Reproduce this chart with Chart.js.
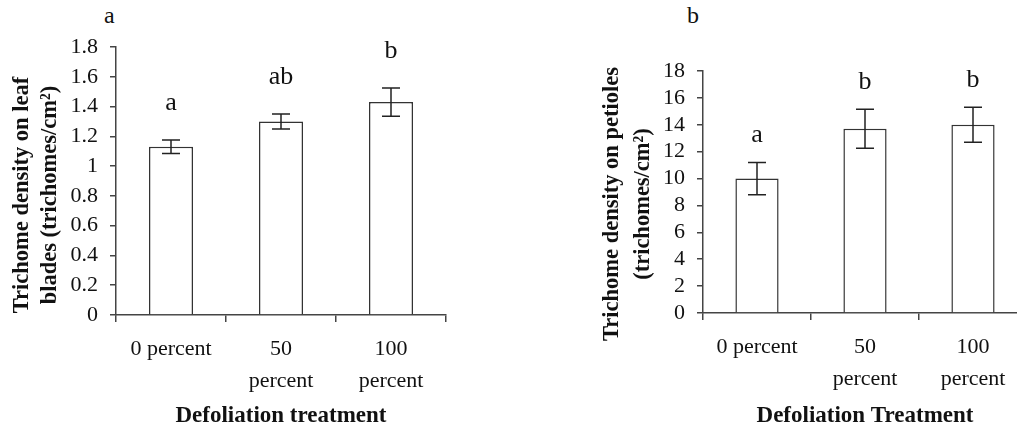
<!DOCTYPE html>
<html>
<head>
<meta charset="utf-8">
<script src="https://cdn.jsdelivr.net/npm/chart.js@4"></script>
<style>
  html, body { margin: 0; padding: 0; background: #fff; overflow: hidden; }
  body { width: 1017px; height: 431px; position: relative; }
  .wrap { position: absolute; top: 0; height: 431px; }
  .panel { position: absolute; top: 2px; font: 24px "Liberation Serif", serif; color: #111; }
</style>
</head>
<body>
<div class="panel" style="left:104px">a</div>
<div class="panel" style="left:687px">b</div>
<div class="wrap" style="left:0; width:470px"><canvas id="bladeChart"></canvas></div>
<div class="wrap" style="left:590px; width:460px"><canvas id="petioleChart"></canvas></div>
<script>
const treatments = [["0 percent"], ["50", "percent"], ["100", "percent"]];

// panel a: leaf blades
const bladeMeans = [1.13, 1.30, 1.43];
const bladeErrors = [0.045, 0.05, 0.095];
const bladeLetters = ["a", "ab", "b"];
const bladeTicks = [0, 0.2, 0.4, 0.6, 0.8, 1, 1.2, 1.4, 1.6, 1.8];

// panel b: petioles
const petioleMeans = [10.0, 13.7, 14.0];
const petioleErrors = [1.2, 1.45, 1.3];
const petioleLetters = ["a", "b", "b"];
const petioleTicks = [0, 2, 4, 6, 8, 10, 12, 14, 16, 18];

const serif = "'Liberation Serif', 'Times New Roman', serif";
const axisColor = "#444";

// error bars + significance letters, drawn through the scales
const errorBarPlugin = {
  id: "errorBars",
  afterDatasetsDraw(chart, args, opts) {
    const { ctx, scales: { x, y } } = chart;
    const means = chart.data.datasets[0].data;
    ctx.save();
    ctx.strokeStyle = "#222";
    ctx.lineWidth = 1.5;
    means.forEach((m, i) => {
      const cx = x.getPixelForValue(i);
      const top = y.getPixelForValue(m + opts.errors[i]);
      const bot = y.getPixelForValue(m - opts.errors[i]);
      ctx.beginPath();
      ctx.moveTo(cx, top); ctx.lineTo(cx, bot);
      ctx.moveTo(cx - 9, top); ctx.lineTo(cx + 9, top);
      ctx.moveTo(cx - 9, bot); ctx.lineTo(cx + 9, bot);
      ctx.stroke();
      ctx.fillStyle = "#111";
      ctx.font = "26px " + serif;
      ctx.textAlign = "center";
      ctx.textBaseline = "middle";
      ctx.fillText(opts.letters[i], cx, top - opts.gap);
    });
    ctx.restore();
  }
};

// rotated two-line y title, sitting a little below the middle of the axis like the original
const yTitlePlugin = {
  id: "yTitle",
  afterDraw(chart, args, opts) {
    const { ctx, chartArea } = chart;
    const cy = (chartArea.top + chartArea.bottom) / 2 + opts.shift;
    ctx.save();
    ctx.fillStyle = "#111";
    ctx.font = "bold 22.5px " + serif;
    ctx.textAlign = "center";
    ctx.textBaseline = "middle";
    opts.lines.forEach((line, i) => {
      ctx.save();
      ctx.translate(opts.x + i * opts.gap, cy);
      ctx.rotate(-Math.PI / 2);
      ctx.fillText(line, 0, 0);
      ctx.restore();
    });
    ctx.restore();
  }
};

function makeChart(id, means, errors, letters, ticks, yTitle, xTitle, pad, yWidth, xHeight, gap, titleShift, titleGap) {
  return new Chart(document.getElementById(id), {
    type: "bar",
    data: {
      labels: treatments,
      datasets: [{
        data: means,
        backgroundColor: "#fff",
        borderColor: "#333",
        borderWidth: 1.5,
        barPercentage: 0.4,
        categoryPercentage: 1
      }]
    },
    options: {
      responsive: true,
      maintainAspectRatio: false,
      animation: false,
      layout: { padding: pad },
      plugins: {
        legend: { display: false },
        tooltip: { enabled: false },
        errorBars: { errors: errors, letters: letters, gap: gap },
        yTitle: { lines: yTitle, x: 22, gap: titleGap, shift: titleShift }
      },
      scales: {
        x: {
          grid: { drawOnChartArea: false, drawTicks: true, tickLength: 7, color: axisColor, lineWidth: 1.5 },
          border: { color: axisColor, width: 1.5 },
          ticks: { color: "#111", padding: 11, font: { family: serif, size: 22, lineHeight: 1.45 }, maxRotation: 0, autoSkip: false },
          title: { display: true, text: xTitle, color: "#111", padding: { top: 10, bottom: 1 }, font: { family: serif, size: 23, weight: "bold" } },
          afterFit: (s) => { s.height = xHeight; }
        },
        y: {
          min: ticks[0],
          max: ticks[ticks.length - 1],
          afterBuildTicks: (s) => { s.ticks = ticks.map(v => ({ value: v })); },
          grid: { drawOnChartArea: false, drawTicks: true, tickLength: 6, color: axisColor, lineWidth: 1.5 },
          border: { color: axisColor, width: 1.5 },
          ticks: { color: "#111", padding: 12, autoSkip: false, font: { family: serif, size: 22 }, callback: (v) => String(v) },
          afterFit: (s) => { s.width = yWidth; }
        }
      }
    },
    plugins: [errorBarPlugin, yTitlePlugin]
  });
}

makeChart("bladeChart", bladeMeans, bladeErrors, bladeLetters, bladeTicks,
  ["Trichome density on leaf", "blades (trichomes/cm²)"], "Defoliation treatment",
  { left: 0, top: 47, right: 24, bottom: 0 }, 116, 116, 37, 14, 28);

makeChart("petioleChart", petioleMeans, petioleErrors, petioleLetters, petioleTicks,
  ["Trichome density on petioles", "(trichomes/cm²)"], "Defoliation Treatment",
  { left: 0, top: 71, right: 23, bottom: 0 }, 113, 118, 27, 12, 31);
</script>
</body>
</html>
